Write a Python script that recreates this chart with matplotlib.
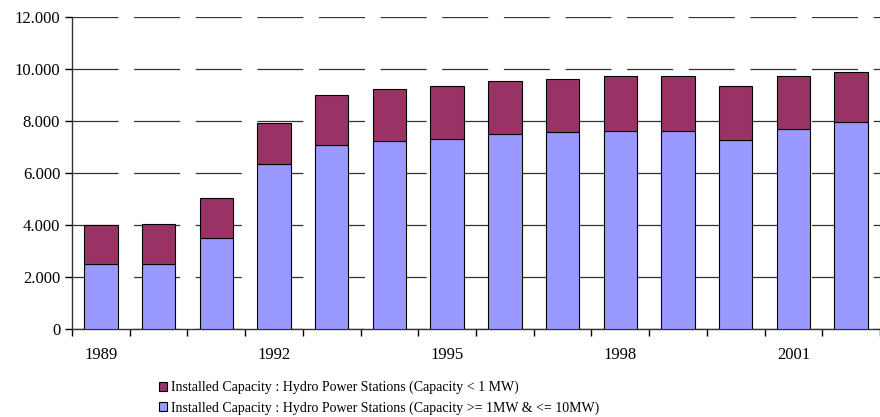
import matplotlib.pyplot as plt
from matplotlib.ticker import FuncFormatter
from matplotlib.patches import Patch

years = list(range(1989, 2003))
large = [2500, 2500, 3500, 6330, 7090, 7240, 7320, 7510, 7560, 7620, 7620, 7280, 7690, 7950]
totals = [4000, 4050, 5025, 7910, 9000, 9230, 9330, 9530, 9600, 9720, 9750, 9330, 9750, 9890]
small = [t - l for t, l in zip(totals, large)]

label_small = "Installed Capacity : Hydro Power Stations (Capacity < 1 MW)"
label_large = "Installed Capacity : Hydro Power Stations (Capacity >= 1MW & <= 10MW)"

plt.rcParams['font.family'] = ['Liberation Serif', 'DejaVu Serif']

fig = plt.figure(figsize=(8.8, 4.17), dpi=100)
ax = fig.add_axes([72 / 880, 1 - 329 / 417, 808 / 880, 312 / 417])

x = list(range(len(years)))
ax.bar(x, large, width=0.58, color='#9999FF', edgecolor='black', linewidth=0.8, zorder=3)
ax.bar(x, small, bottom=large, width=0.58, color='#993366', edgecolor='black', linewidth=0.8, zorder=3)

ax.set_ylim(0, 12000)
ax.set_xlim(-0.5, 13.33)
ax.set_yticks(range(0, 12001, 2000))
ax.yaxis.set_major_formatter(FuncFormatter(lambda v, p: f"{int(v):,}".replace(",", ".")))
# dash lengths are scaled by linewidth: 46 px dash, 16 px gap
ax.grid(axis='y', color='#333333', linewidth=0.9, linestyle=(0, (36.8, 12.5)), zorder=0)

ax.set_xticks([0, 3, 6, 9, 12])
ax.set_xticklabels(["1989", "1992", "1995", "1998", "2001"])
ax.set_xticks([i + 0.5 for i in range(-1, 14)], minor=True)
ax.tick_params(axis='x', which='major', length=0, pad=13, labelsize=12)
ax.tick_params(axis='x', which='minor', length=5, width=1, direction='out')
ax.tick_params(axis='y', length=5, width=1, direction='out', labelsize=12)

for side in ['top', 'right']:
    ax.spines[side].set_visible(False)
for side in ['left', 'bottom']:
    ax.spines[side].set_linewidth(1)
    ax.spines[side].set_color('#333333')

handles = [Patch(facecolor='#993366', edgecolor='black', linewidth=0.8),
           Patch(facecolor='#9999FF', edgecolor='black', linewidth=0.8)]
fig.legend(handles, [label_small, label_large], loc='upper left',
           bbox_to_anchor=(152 / 880, 1 - 374 / 417), frameon=False, fontsize=10,
           handlelength=0.6, handleheight=0.6, handletextpad=0.3, labelspacing=0.5,
           borderpad=0)

fig.savefig("out.png", dpi=100)
